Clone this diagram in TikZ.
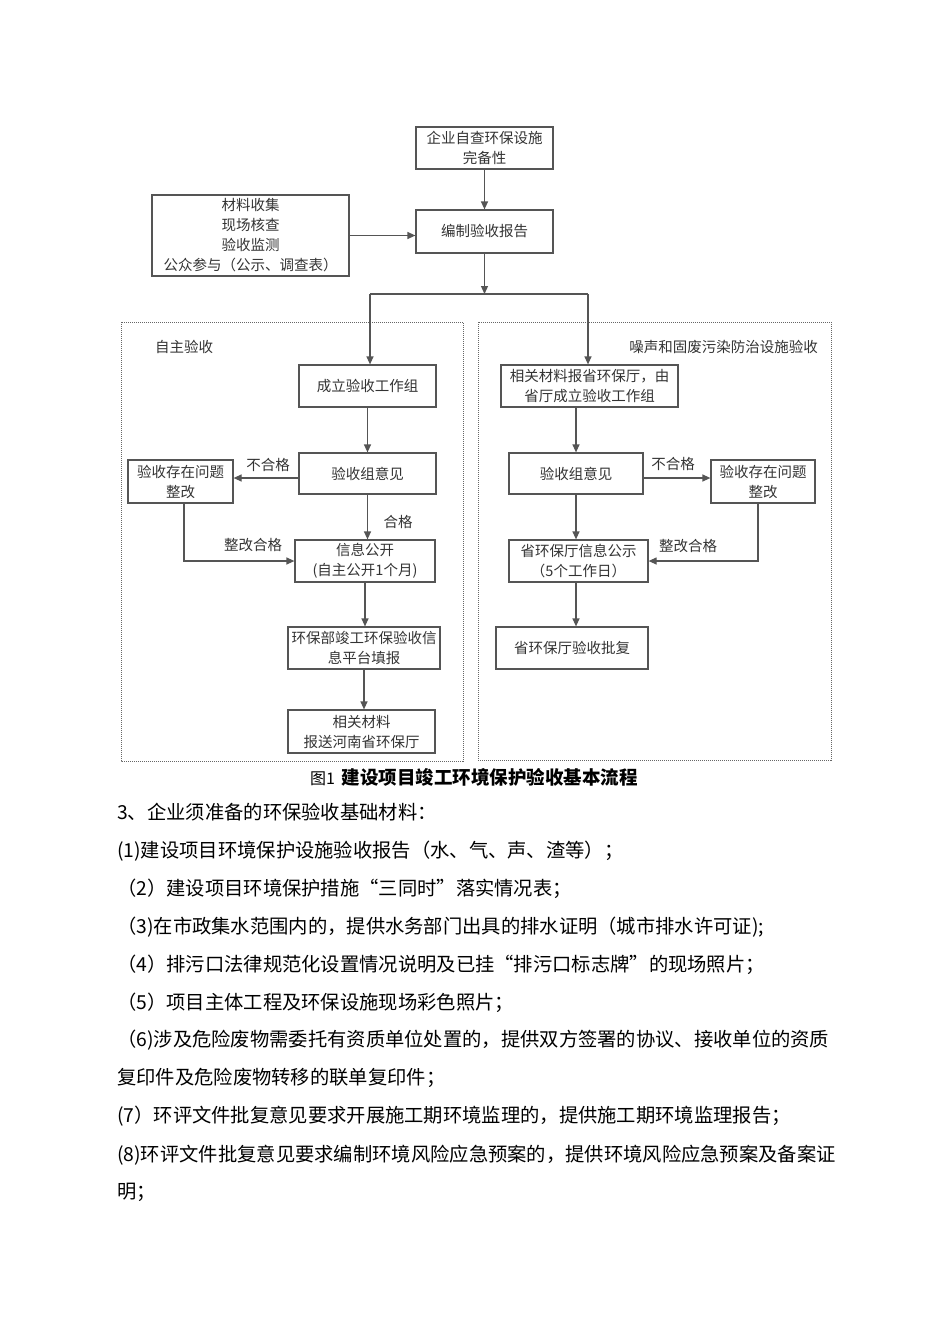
\documentclass[tikz,border=0pt]{standalone}
\usepackage{fontspec}
\setmainfont{Noto Sans CJK SC}
\usepackage{tikz}
\usetikzlibrary{positioning,arrows.meta}
\definecolor{linegray}{HTML}{555555}
\definecolor{textgray}{HTML}{333333}

\begin{document}
\begin{tikzpicture}[x=1pt,y=-1pt,
    box/.style={draw=linegray, line width=1.2pt, rectangle, align=center, inner sep=0pt,
      text=textgray, font=\fontsize{14.5}{20}\selectfont},
    flow/.style={draw=linegray, line width=1.2pt, -{Triangle[length=8pt,width=7pt]}},
    frame/.style={draw=black!60, densely dotted, line width=1pt},
    lbl/.style={text=textgray, inner sep=0pt, font=\fontsize{14.5}{18}\selectfont},
    body/.style={anchor=west, inner sep=0pt, font=\fontsize{19.3}{24}\selectfont}]
      \useasboundingbox (0,0) rectangle (950,1344);

      % Parte superiore
      \node (A) at (484.5,148) [box, minimum width=137pt, minimum height=42pt] {企业自查环保设施\\完备性};
      \node (B) at (484.5,231.5) [box, minimum width=137pt, minimum height=43pt] {编制验收报告};
      \node (C) at (250.5,235.5) [box, minimum width=197pt, minimum height=81pt] {材料收集\\现场核查\\验收监测\\公众参与（公示、调查表）};

      % Riquadri tratteggiati
      \draw[frame] (121,322) rectangle (463,761);
      \draw[frame] (478,322) rectangle (831,760);
      \node (L) at (155,347) [lbl, anchor=west] {自主验收};
      \node (R) at (818,347) [lbl, anchor=east] {噪声和固废污染防治设施验收};

      % Colonna sinistra
      \node (D) at (367.5,386) [box, minimum width=137pt, minimum height=42pt] {成立验收工作组};
      \node (E) at (367.5,473.5) [box, minimum width=137pt, minimum height=41pt] {验收组意见};
      \node (F) at (180.5,481.5) [box, minimum width=105pt, minimum height=43pt] {验收存在问题\\整改};
      \node (G) at (365,561) [box, minimum width=140pt, minimum height=42pt] {信息公开\\(自主公开1个月)};
      \node (H) at (364,648) [box, minimum width=152pt, minimum height=42pt] {环保部竣工环保验收信\\息平台填报};
      \node (I) at (361.5,731.5) [box, minimum width=147pt, minimum height=43pt] {相关材料\\报送河南省环保厅};

      % Colonna destra
      \node (J) at (589.5,386) [box, minimum width=177pt, minimum height=42pt] {相关材料报省环保厅，由\\省厅成立验收工作组};
      \node (K) at (576,473.5) [box, minimum width=134pt, minimum height=41pt] {验收组意见};
      \node (M) at (763,481.5) [box, minimum width=104pt, minimum height=43pt] {验收存在问题\\整改};
      \node (N) at (578.5,561) [box, minimum width=139pt, minimum height=42pt] {省环保厅信息公示\\（5个工作日）};
      \node (P) at (572,648) [box, minimum width=152pt, minimum height=42pt] {省环保厅验收批复};

      % Etichette
      \node (Q1) at (268,465) [lbl] {不合格};
      \node (Q2) at (398,522) [lbl] {合格};
      \node (Q3) at (253,545) [lbl] {整改合格};
      \node (Q4) at (673,464) [lbl] {不合格};
      \node (Q5) at (688,546) [lbl] {整改合格};

      % Collegamenti
      \coordinate (S) at (484.5,294);
      \coordinate (SL) at (370,294);
      \coordinate (SR) at (588,294);
      \draw[flow] (A) -- (B);
      \draw[flow] (C.east) -- (C.east -| B.west);
      \draw[flow] (B) -- (S);
      \draw[draw=linegray, line width=1.2pt] (SL) -- (SR);
      \draw[flow] (SL) -- (SL |- D.north);
      \draw[flow] (SR) -- (SR |- J.north);

      \draw[flow] (D) -- (E);
      \draw[flow] ([yshift=-4.5pt]E.west) -- ([yshift=-4.5pt]E.west -| F.east);
      \draw[flow] (E.south) -- (E.south |- G.north);
      \draw[flow] ([xshift=3.5pt]F.south) |- (G.west);
      \draw[flow] (G.south) -- (G.south |- H.north);
      \draw[flow] (H.south) -- (H.south |- I.north);

      \draw[flow] (K.north |- J.south) -- (K.north);
      \draw[flow] ([yshift=-4.5pt]K.east) -- ([yshift=-4.5pt]K.east -| M.west);
      \draw[flow] (K.south) -- (K.south |- N.north);
      \draw[flow] ([xshift=-5pt]M.south) |- (N.east);
      \draw[flow] (K.south |- N.south) -- (K.south |- P.north);

      % Didascalia e testo
      \node (T) at (474,777) [inner sep=0pt] {{\fontsize{16}{16}\selectfont 图1}\hspace{7pt}{\bfseries\fontsize{18.5}{18.5}\selectfont 建设项目竣工环境保护验收基本流程}};
      \node (T0) at (117,812) [body] {3、企业须准备的环保验收基础材料：};
      \node (T1) at (117,851) [body] {(1)建设项目环境保护设施验收报告（水、气、声、渣等）；};
      \node (T2) at (117,889) [body] {（2）建设项目环境保护措施“三同时”落实情况表；};
      \node (T3) at (117,927) [body] {（3)在市政集水范围内的，提供水务部门出具的排水证明（城市排水许可证);};
      \node (T4) at (117,965) [body] {（4）排污口法律规范化设置情况说明及已挂“排污口标志牌”的现场照片；};
      \node (T5) at (117,1003) [body] {（5）项目主体工程及环保设施现场彩色照片；};
      \node (T6) at (117,1040) [body] {（6)涉及危险废物需委托有资质单位处置的，提供双方签署的协议、接收单位的资质};
      \node (T7) at (117,1078) [body] {复印件及危险废物转移的联单复印件；};
      \node (T8) at (117,1116) [body] {(7）环评文件批复意见要求开展施工期环境监理的，提供施工期环境监理报告；};
      \node (T9) at (117,1155) [body] {(8)环评文件批复意见要求编制环境风险应急预案的，提供环境风险应急预案及备案证};
      \node (T10) at (117,1192) [body] {明；};
    \end{tikzpicture}
\end{document}
